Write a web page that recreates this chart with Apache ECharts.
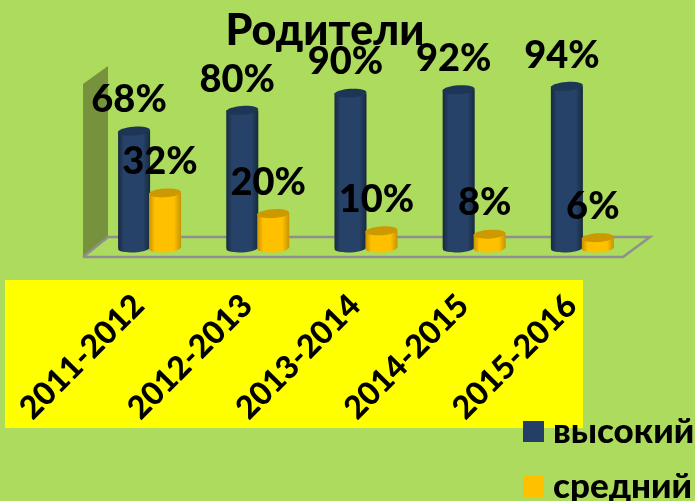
<!DOCTYPE html>
<html><head><meta charset="utf-8">
<style>html,body{margin:0;padding:0;background:#acdb5d}#c{width:695px;height:501px}</style>
<script src="https://cdn.jsdelivr.net/npm/echarts@6/dist/echarts.min.js"></script>
</head><body><div id="c"></div>
<script>
const categories = ['2011-2012','2012-2013','2013-2014','2014-2015','2015-2016'];
const high = [68,80,90,92,94];
const medium = [32,20,10,8,6];
const seriesNames = ['высокий','средний'];
const titleText = 'Родители';
const FONT = 'Lato, "Open Sans", sans-serif';

function cylinder(offsetFrac, edge, mid, cap){
  return function(params, api){
    const cat = api.value(0), v = api.value(1);
    const top = api.coord([cat, v]);
    const base = api.coord([cat, 0]);
    const band = api.size([1,0])[0];
    const w = band * 0.296;
    const x = top[0] + band * offsetFrac;
    const rx = w/2, ry = 4.4, tilt = 0.07;
    const cx = x + rx;
    const grad = {type:'linear',x:0,y:0,x2:1,y2:0,colorStops:[
      {offset:0,color:edge},{offset:0.18,color:mid},{offset:0.5,color:mid},{offset:0.78,color:mid},{offset:1,color:edge}]};
    const ell = (cy, fill) => ({type:'ellipse',shape:{cx:cx,cy:cy,rx:rx,ry:ry},rotation:tilt,originX:cx,originY:cy,style:{fill:fill}});
    return {type:'group',children:[
      ell(base[1], grad),
      {type:'rect',shape:{x:x,y:top[1],width:w,height:base[1]-top[1]},style:{fill:grad}},
      ell(top[1], cap),
      {type:'text',z2:100,style:{text:v+'%',x:cx-5,y:top[1]-31,align:'center',verticalAlign:'middle',
        font:'900 38px '+FONT,fill:'#000'}}
    ]};
  };
}

const chart = echarts.init(document.getElementById('c'), null, {renderer:'canvas'});
chart.setOption({
  animation:false,
  backgroundColor:'#acdb5d',
  title:{text:titleText,left:320,top:5,textAlign:'center',textStyle:{fontFamily:FONT,fontWeight:900,fontSize:43,color:'#000'}},
  legend:{orient:'vertical',left:523,top:414,height:200,padding:0,itemWidth:21,itemHeight:21,itemGap:20,icon:'rect',selectedMode:false,
    textStyle:{fontFamily:FONT,fontWeight:900,fontSize:35,lineHeight:33,color:'#000',padding:[0,0,0,4]},
    data:seriesNames},
  grid:{left:96,width:541,top:76,height:172},
  xAxis:{type:'category',data:categories,axisLine:{show:false},axisTick:{show:false},splitLine:{show:false},
    axisLabel:{interval:0,rotate:45,margin:41,padding:[0,16,0,0],hideOverlap:false,fontFamily:FONT,fontWeight:900,fontSize:32,color:'#000'}},
  yAxis:{type:'value',min:0,max:100,show:false},
  graphic:{elements:[
    {type:'rect',z:-10,shape:{x:5,y:280,width:578,height:148},style:{fill:'#ffff00'}},
    {type:'polygon',z:-10,shape:{points:[[83,84],[108,66],[108,237],[83,257]]},style:{fill:'#76923c'}},
    {type:'polyline',z:-10,shape:{points:[[83,257],[108,237],[650,237],[623,257],[83,257]]},style:{fill:'none',stroke:'#8f8f8f',lineWidth:2.5}}
  ]},
  series:[
    {name:seriesNames[0],type:'custom',itemStyle:{color:'#243f66'},data:high.map((v,i)=>[i,v]),
     encode:{x:0,y:1},renderItem:cylinder(-0.296,'#18293f','#264268','#1e3655')},
    {name:seriesNames[1],type:'custom',itemStyle:{color:'#ffc000'},data:medium.map((v,i)=>[i,v]),
     encode:{x:0,y:1},renderItem:cylinder(-0.01,'#c59400','#ffc000','#cc9900')}
  ]
});
</script></body></html>
